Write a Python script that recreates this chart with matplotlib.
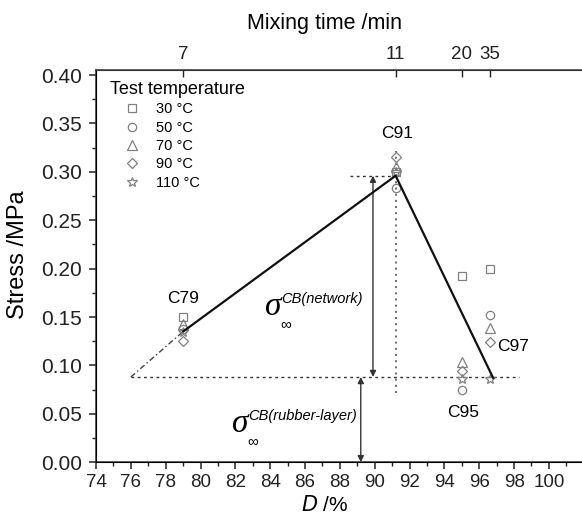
import numpy as np
import matplotlib
matplotlib.use('Agg')
import matplotlib.pyplot as plt
from matplotlib.ticker import MultipleLocator, FixedLocator, FormatStrFormatter

plt.rcParams['font.family'] = ['Liberation Sans', 'DejaVu Sans']

# Degree of dispersion D (%) for each compound and its mixing time
compounds = ['C79', 'C91', 'C95', 'C97']
D = [79.0, 91.2, 95.0, 96.6]
mixing_time = ['7', '11', '20', '35']

# Stress (MPa) per test temperature, one value per compound
temps = ['30 °C', '50 °C', '70 °C', '90 °C', '110 °C']
stress_30 = [0.150, 0.300, 0.192, 0.200]
stress_50 = [0.138, 0.283, 0.075, 0.152]
stress_70 = [0.143, 0.305, 0.103, 0.139]
stress_90 = [0.125, 0.315, 0.094, 0.124]
stress_110 = [0.134, 0.300, 0.086, 0.086]
markers = ['s', 'o', '^', 'D', '*']

# Fitted trend (solid), its extrapolation (dash-dot) and the rubber-layer level
trend_D = [79.0, 91.2, 96.8]
trend_s = [0.135, 0.296, 0.087]
extra_D = [76.0, 79.0]
extra_s = [0.088, 0.135]
plateau = 0.088
peak = 0.296

fig = plt.figure(figsize=(5.82, 5.24), dpi=100)
ax = fig.add_axes([0.165, 0.118, 0.835, 0.748])

gray = '#808080'
sizes = {'s': 6, 'o': 6, '^': 6.5, 'D': 5.5, '*': 7.5}
series = [stress_30, stress_50, stress_70, stress_90, stress_110]
for vals, m, lab in zip(series, markers, temps):
    ax.plot(D, vals, linestyle='none', marker=m, ms=sizes[m],
            markerfacecolor='none', markeredgecolor=gray, markeredgewidth=0.9,
            label=lab, zorder=3)

ax.plot(trend_D, trend_s, color='#111111', lw=1.6, zorder=4)
ax.plot(extra_D, extra_s, color='#444444', lw=1.0, linestyle=(0, (4, 2, 1, 2)))
ax.plot([76.0, 98.3], [plateau, plateau], color='#333333', lw=1.0, linestyle=(0, (2, 2.5)))
ax.plot([88.6, 91.2], [peak, peak], color='#333333', lw=1.0, linestyle=(0, (2, 2.5)))
ax.plot([91.2, 91.2], [0.071, 0.322], color='#555555', lw=1.2, linestyle=(0, (1.2, 2.5)))

arrow = dict(arrowstyle='<|-|>', color='#333333', lw=1.0, mutation_scale=9,
             shrinkA=0, shrinkB=0)
ax.annotate('', xy=(89.9, peak), xytext=(89.9, plateau), arrowprops=arrow)
ax.annotate('', xy=(89.2, plateau), xytext=(89.2, 0.0), arrowprops=arrow)

# compound labels
ax.text(79.0, 0.169, 'C79', ha='center', va='center', fontsize=12.5)
ax.text(91.3, 0.340, 'C91', ha='center', va='center', fontsize=12.5)
ax.text(95.05, 0.051, 'C95', ha='center', va='center', fontsize=12.5)
ax.text(97.0, 0.120, 'C97', ha='left', va='center', fontsize=12.5)


def sigma_label(x, y, sup):
    ax.text(x, y, 'σ', family='Liberation Serif', style='italic',
            fontsize=24, ha='center', va='baseline')
    ax.annotate('∞', (x, y), xytext=(5, -9), textcoords='offset points',
                fontsize=11, ha='left', va='baseline')
    ax.annotate(sup, (x, y), xytext=(5.5, 9), textcoords='offset points',
                fontsize=10.5, style='italic', ha='left', va='baseline')


sigma_label(84.2, 0.152, 'CB(network)')
sigma_label(82.3, 0.031, 'CB(rubber-layer)')

ax.set_xlim(74, 101.9)
ax.set_ylim(0, 0.405)
ax.xaxis.set_major_locator(MultipleLocator(2))
ax.xaxis.set_minor_locator(MultipleLocator(1))
ax.yaxis.set_major_locator(MultipleLocator(0.05))
ax.yaxis.set_minor_locator(MultipleLocator(0.025))
ax.yaxis.set_major_formatter(FormatStrFormatter('%.2f'))
ax.tick_params(which='major', direction='out', length=5, width=1.1,
               colors='#222222')
ax.tick_params(which='minor', direction='out', length=3, width=1.0, colors='#222222')
ax.tick_params(axis='x', labelsize=13.5)
ax.tick_params(axis='y', labelsize=15, pad=5)
ax.spines['right'].set_visible(False)
for s in ['left', 'bottom', 'top']:
    ax.spines[s].set_linewidth(1.1)
    ax.spines[s].set_color('#333333')

ax.set_xlabel('$D$ /%', fontsize=15)
ax.xaxis.set_label_coords(0.47, -0.085)
ax.set_ylabel('Stress /MPa', fontsize=17)
ax.yaxis.set_label_coords(-0.138, 0.53)

top = ax.twiny()
top.set_xlim(ax.get_xlim())
top.xaxis.set_major_locator(FixedLocator(D))
top.set_xticklabels(mixing_time)
top.xaxis.set_minor_locator(FixedLocator([]))
top.tick_params(axis='x', direction='in', length=5, width=1.0, labelsize=13.5, pad=5,
                colors='#222222')
top.spines['right'].set_visible(False)
top.spines['top'].set_color('#333333')
top.set_xlabel('Mixing time /min', fontsize=15.5)
top.xaxis.set_label_coords(0.47, 1.105)

leg = ax.legend(loc='upper left', bbox_to_anchor=(0.01, 0.995), frameon=False,
                title='Test temperature', title_fontsize=13, fontsize=10.5,
                handlelength=3.0, handletextpad=0.2, labelspacing=0.3,
                alignment='left', borderaxespad=0.2)

fig.savefig('out.png', dpi=100)
